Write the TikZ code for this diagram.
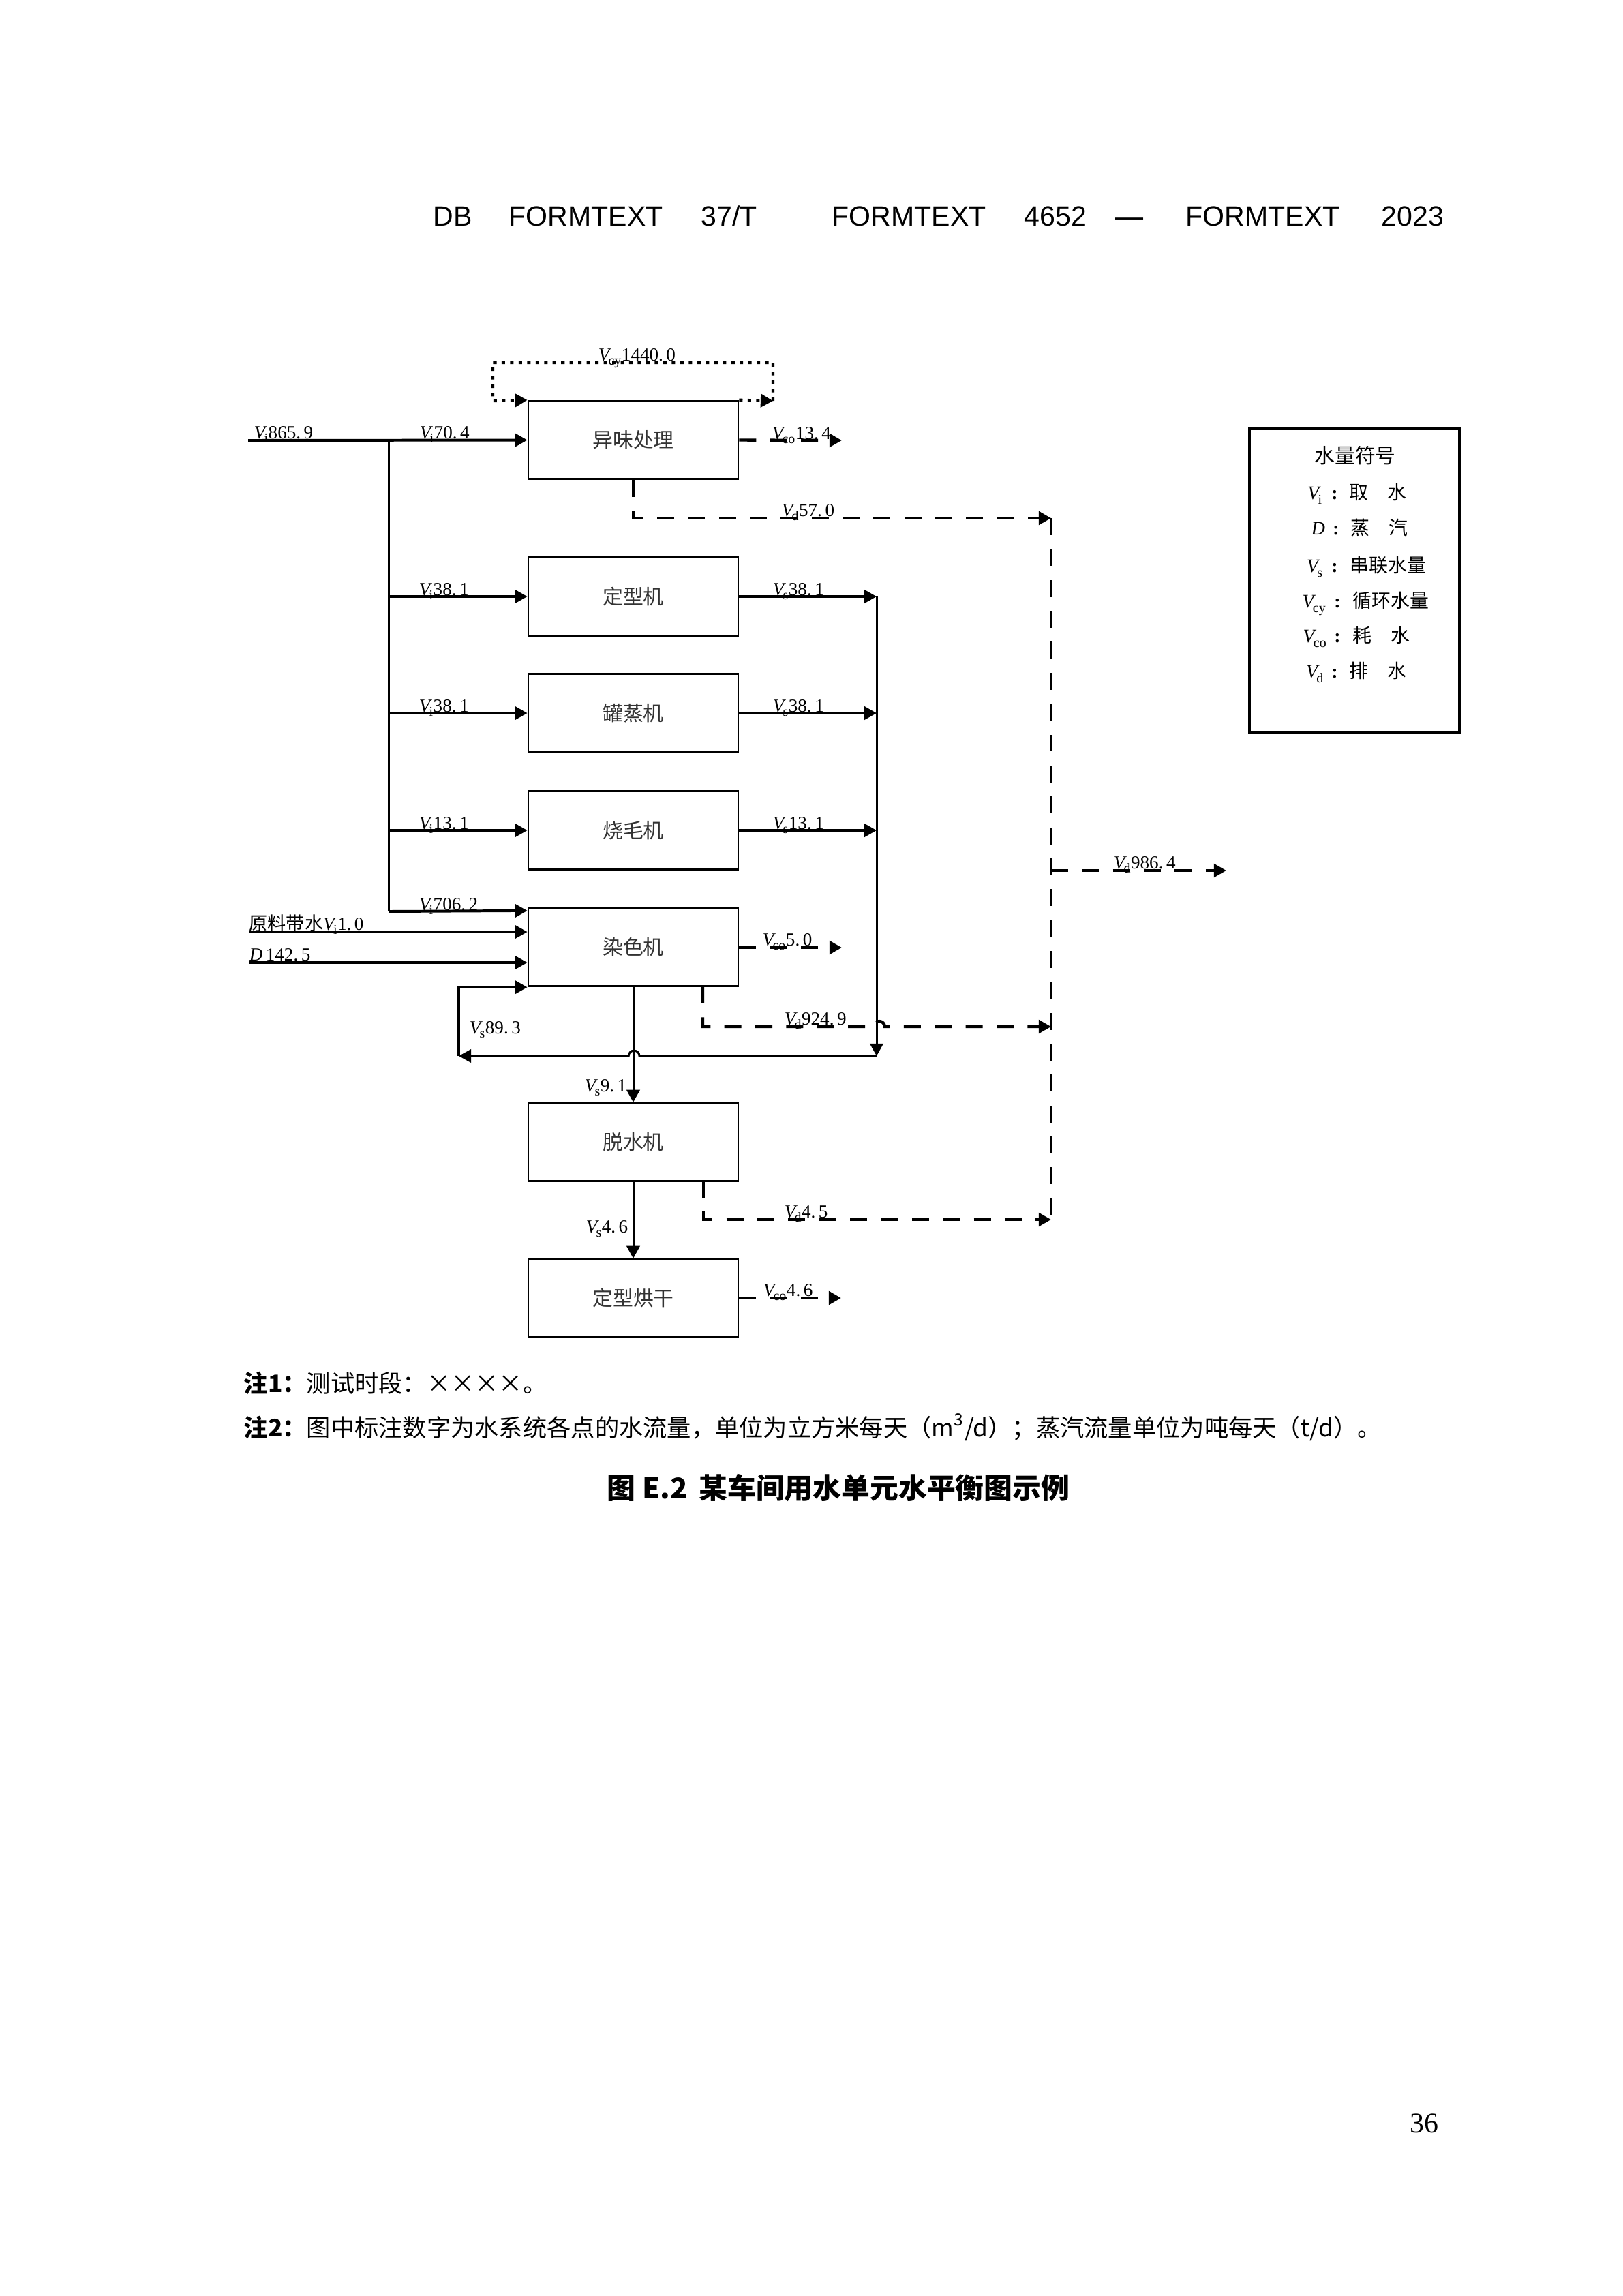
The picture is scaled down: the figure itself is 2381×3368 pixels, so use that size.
\documentclass[tikz,border=0pt]{standalone}
\usepackage{fontspec}
\setmainfont{Liberation Serif}
\newfontfamily\cjk{Noto Sans CJK SC}
\newfontfamily\hdrfont{Liberation Sans}
\usetikzlibrary{arrows.meta,calc}
\newcommand\VV[2]{\textit{V}\kern-0.16em\raisebox{-0.55ex}{\fontsize{5}{5}\selectfont #1}\kern0.02em#2}
\tikzset{
  box/.style={draw,line width=0.7pt,minimum width=27.16mm,minimum height=10.1mm,inner sep=0,font=\cjk\fontsize{7.5}{9}\selectfont,text=black!80},
  tip/.style={-{Triangle[length=1.6mm,width=1.7mm]}},
  flow/.style={line width=1pt,tip},
  thinflow/.style={line width=0.75pt},
  drain/.style={line width=1.1pt,dash pattern=on 2.2mm off 1.8mm},
  cyc/.style={line width=1.1pt,dash pattern=on 0.45mm off 0.65mm},
  lbl/.style={inner sep=0,anchor=base west,font=\fontsize{6.8}{8}\selectfont},
  leg/.style={inner sep=0,anchor=base,font=\fontsize{7}{8}\selectfont},
  legt/.style={inner sep=0,anchor=base west,font=\cjk\fontsize{7}{8}\selectfont},
  hdr/.style={inner sep=0,anchor=base west,font=\hdrfont\fontsize{10.3}{12}\selectfont},
  note/.style={inner sep=0,anchor=base west,font=\fontsize{8.85}{11}\selectfont},
}
\begin{document}
\begin{tikzpicture}[x=0.08819mm,y=-0.08819mm]
\useasboundingbox (0,0) rectangle (2381,3368);
\fill[white] (0,0) rectangle (2381,3368);

% header
\node[hdr] (h1) at (635,331) {DB};
\node[hdr] (h2) at (746,331) {FORMTEXT};
\node[hdr] (h3) at (1028,331) {37/T};
\node[hdr] (h4) at (1220,331) {FORMTEXT};
\node[hdr] (h5) at (1502,331) {4652};
\node[hdr] (h6) at (1636,331) {—};
\node[hdr] (h7) at (1739,331) {FORMTEXT};
\node[hdr] (h8) at (2026,331) {2023};

% boxes
\node[box] (A) at (929,645.5) {异味处理};
\node[box] (B) at (929,875) {定型机};
\node[box] (C) at (929,1046) {罐蒸机};
\node[box] (D) at (929,1218) {烧毛机};
\node[box] (E) at (929,1389.5) {染色机};
\node[box] (F) at (929,1675.5) {脱水机};
\node[box] (G) at (929,1904.5) {定型烘干};

% coordinates
\coordinate (in1) at (364,646);
\coordinate (t0) at (570,646);
\coordinate (tE) at (570,1337);
\coordinate (cx) at (1286,0);
\coordinate (cbot) at (1286,1549);
\coordinate (rc) at (673,1549);
\coordinate (rw) at (365,1367);
\coordinate (st) at (365,1412);
\coordinate (oA) at (1235,646);
\coordinate (oE) at (1235,1390);
\coordinate (oG) at (1234,1904);
\coordinate (dv1) at (1542,760);
\coordinate (dv2) at (1542,1506);
\coordinate (dv3) at (1542,1789);
\coordinate (dv4) at (1542,1277);
\coordinate (o986) at (1799,1277);
\coordinate (eD) at (1031,1447);
\coordinate (fD) at (1032,1732);
\coordinate (lp1) at (1134,588);

% intake
\draw[flow] (in1) -- (A.west);
\draw[thinflow] (t0) -- (tE);
\draw[flow] (tE) -- ($(E.north west)+(0,5)$);
\draw[flow] (t0 |- B.west) -- (B.west);
\draw[flow] (t0 |- C.west) -- (C.west);
\draw[flow] (t0 |- D.west) -- (D.west);
\draw[flow] (rw) -- (rw -| E.west);
\draw[flow] (st) -- (st -| E.west);

% series outputs
\draw[flow] (B.east) -- (cx |- B.east);
\draw[flow] (C.east) -- (cx |- C.east);
\draw[flow] (D.east) -- (cx |- D.east);
\draw[thinflow,tip] (cx |- B.east) -- (cbot);
\draw[thinflow,tip] (cbot) -- (938,1549) arc[start angle=0,end angle=180,radius=0.7mm] -- (rc);
\draw[flow] (rc) |- (E.south west);
\draw[thinflow,tip] (E.south) -- (F.north);
\draw[thinflow,tip] (F.south) -- (G.north);

% consumption
\draw[drain,tip] (A.east) -- (oA);
\draw[drain,tip] (E.east |- oE) -- (oE);
\draw[drain,tip] (G.east |- oG) -- (oG);

% drainage
\draw[drain,tip] (A.south) -- (A.south |- dv1) -- (dv1);
\draw[drain] (dv1) -- (dv3);
\draw[drain,tip] (eD) -- (eD |- dv2) -- (1282,1506) arc[start angle=180,end angle=0,radius=0.7mm] -- (dv2);
\draw[drain,tip] (fD) -- (fD |- dv3) -- (dv3);
\draw[drain,tip] (dv4) -- (o986);

% circulation loop
\draw[cyc,tip] (A.north east) -- (lp1);
\draw[cyc,tip] (lp1) -- (1134,532) -- (723,532) -- (723,588) -- (A.north west);

% labels
\node[lbl] (l1) at (877,529) {\VV{cy}{1440.\,0}};
\node[lbl] (l2) at (372,643) {\VV{i}{865.\,9}};
\node[lbl] (l3) at (615,643) {\VV{i}{70.\,4}};
\node[lbl] (l4) at (1132,644) {\VV{co}{13.\,4}};
\node[lbl] (l5) at (1146,757) {\VV{d}{57.\,0}};
\node[lbl] (l6) at (614,873) {\VV{i}{38.\,1}};
\node[lbl] (l7) at (614,1044) {\VV{i}{38.\,1}};
\node[lbl] (l8) at (614,1216) {\VV{i}{13.\,1}};
\node[lbl] (l9) at (1133,873) {\VV{s}{38.\,1}};
\node[lbl] (l10) at (1133,1044) {\VV{s}{38.\,1}};
\node[lbl] (l11) at (1133,1216) {\VV{s}{13.\,1}};
\node[lbl] (l12) at (614,1335) {\VV{i}{706.\,2}};
\node[lbl] (l13) at (365,1364) {{\cjk 原料带水}\VV{i}{1.\,0}};
\node[lbl] (l14) at (365,1409) {\textit{D}\,142.\,5};
\node[lbl] (l15) at (1118,1387) {\VV{co}{5.\,0}};
\node[lbl] (l16) at (1150,1503) {\VV{d}{924.\,9}};
\node[lbl] (l17) at (688,1516) {\VV{s}{89.\,3}};
\node[lbl] (l18) at (857,1601) {\VV{s}{9.\,1}};
\node[lbl] (l19) at (859,1808) {\VV{s}{4.\,6}};
\node[lbl] (l20) at (1150,1786) {\VV{d}{4.\,5}};
\node[lbl] (l21) at (1119,1901) {\VV{co}{4.\,6}};
\node[lbl] (l22) at (1633,1274) {\VV{d}{986.\,4}};

% legend
\node[draw,line width=0.8pt,minimum width=27.16mm,minimum height=39.33mm,inner sep=0] (L) at (1987,852) {};
\node[inner sep=0,anchor=base,font=\cjk\fontsize{7.5}{9}\selectfont] (lt) at (1988,679) {水量符号};
\node[leg] (s1) at (1929,732) {\VV{i}{}};
\node[leg] (s2) at (1934,784) {\textit{D}};
\node[leg] (s3) at (1929,839) {\VV{s}{}};
\node[leg] (s4) at (1928,891) {\VV{cy}{}};
\node[leg] (s5) at (1929,942) {\VV{co}{}};
\node[leg] (s6) at (1929,994) {\VV{d}{}};
\node[leg,font=\bfseries\fontsize{7}{8}\selectfont] (c1) at (1958,732) {:};
\node[leg,font=\bfseries\fontsize{7}{8}\selectfont] (c2) at (1960,784) {:};
\node[leg,font=\bfseries\fontsize{7}{8}\selectfont] (c3) at (1958,839) {:};
\node[leg,font=\bfseries\fontsize{7}{8}\selectfont] (c4) at (1962,891) {:};
\node[leg,font=\bfseries\fontsize{7}{8}\selectfont] (c5) at (1962,942) {:};
\node[leg,font=\bfseries\fontsize{7}{8}\selectfont] (c6) at (1958,994) {:};
\node[legt] (d1) at (1979,732) {取\quad 水};
\node[legt] (d2) at (1981,784) {蒸\quad 汽};
\node[legt] (d3) at (1980,839) {串联水量};
\node[legt] (d4) at (1984,891) {循环水量};
\node[legt] (d5) at (1984,942) {耗\quad 水};
\node[legt] (d6) at (1979,994) {排\quad 水};

% notes
\node[note] (n1) at (357,2042) {{\cjk\bfseries 注1：}{\cjk 测试时段：××××。}};
\node[note] (n2) at (357,2107) {{\cjk\bfseries 注2：}{\cjk 图中标注数字为水系统各点的水流量，单位为立方米每天（m\textsuperscript{3}/d）；蒸汽流量单位为吨每天（t/d）。}};
\node[inner sep=0,anchor=base,font=\cjk\bfseries\fontsize{10.5}{12}\selectfont] (title) at (1230,2198) {图 E.2\hspace{0.4em}某车间用水单元水平衡图示例};

% page number
\node[inner sep=0,anchor=base,font=\fontsize{10.5}{12}\selectfont] (pg) at (2089,3128) {36};
\end{tikzpicture}
\end{document}
